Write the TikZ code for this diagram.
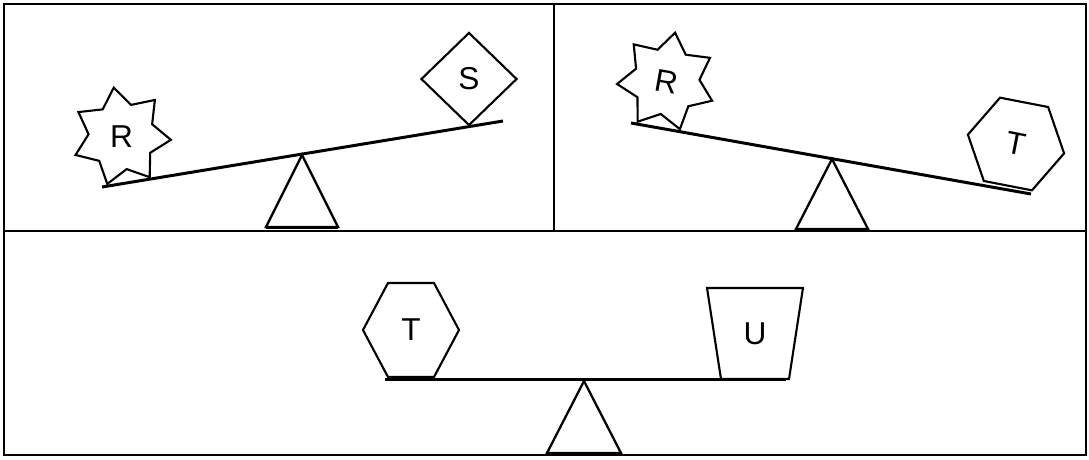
\documentclass[tikz,border=0pt]{standalone}
\usepackage{fontspec}
\setmainfont{Liberation Sans}
\usetikzlibrary{shapes.geometric, shapes.symbols}

\begin{document}
\begin{tikzpicture}[
  x=0.2mm, y=-0.2mm,
  font=\fontsize{18}{20}\selectfont,
  frame/.style={draw=black, line width=0.8pt},
  beam/.style={draw=black, line width=1.7pt},
  weight/.style={draw=black, line width=1.2pt, inner sep=0pt},
  fulcrum/.style={draw=black, line width=1.3pt, line join=miter}
]
  \useasboundingbox (0,0) rectangle (1089,459);

  % frame and panels
  \draw[frame] (4,4) rectangle (1086,455);
  \draw[frame] (4,231) -- (1086,231);
  \draw[frame] (554,4) -- (554,231);

  % Panel 1 — R up, S down
  \coordinate (b1l) at (102,187);
  \coordinate (b1r) at (503,121);
  \draw[beam] (b1l) -- (b1r);
  \coordinate (f1) at (302,155);
  \draw[fulcrum] (f1) -- ++(-36,72) -- ++(72,0) -- cycle;
  \draw[beam] (f1) ++(-36,72) -- ++(72,0);
  \node[weight, star, star points=7, star point ratio=1.5, minimum size=19.8mm,
        shape border rotate=9] (r1) at (121.5,136.5) {R};
  \node[weight, diamond, minimum width=19.2mm, minimum height=18.6mm] (s1) at (469,79) {S};

  % Panel 2 — R up, T down
  \coordinate (b2l) at (631,123);
  \coordinate (b2r) at (1031,194);
  \draw[beam] (b2l) -- (b2r);
  \coordinate (f2) at (832,159);
  \draw[fulcrum] (f2) -- ++(-36,70) -- ++(72,0) -- cycle;
  \draw[beam] (f2) ++(-36,70) -- ++(72,0);
  \node[weight, star, star points=7, star point ratio=1.5, minimum size=19.8mm,
        rotate=-10] (r2) at (666.5,81.5) {R};
  \node[weight, regular polygon, regular polygon sides=6, minimum size=19.6mm,
        rotate=-11] (t1) at (1016,144) {T};

  % Panel 3 — T and U level
  \coordinate (b3l) at (385,379);
  \coordinate (b3r) at (786,379);
  \draw[beam] (b3l) -- (b3r);
  \coordinate (f3) at (584,381);
  \draw[fulcrum] (f3) -- ++(-37,72) -- ++(74,0) -- cycle;
  \draw[beam] (f3) ++(-37,72) -- ++(74,0);
  \node[weight, signal, signal to=west and east, signal pointer angle=124,
        minimum width=19.2mm, minimum height=18.8mm] (t2) at (411,330) {T};
  \node[weight, trapezium, trapezium left angle=78, trapezium right angle=78,
        trapezium stretches=true, shape border rotate=180,
        minimum width=19.2mm, minimum height=18.2mm] (u1) at (755,333.5) {U};
\end{tikzpicture}
\end{document}
